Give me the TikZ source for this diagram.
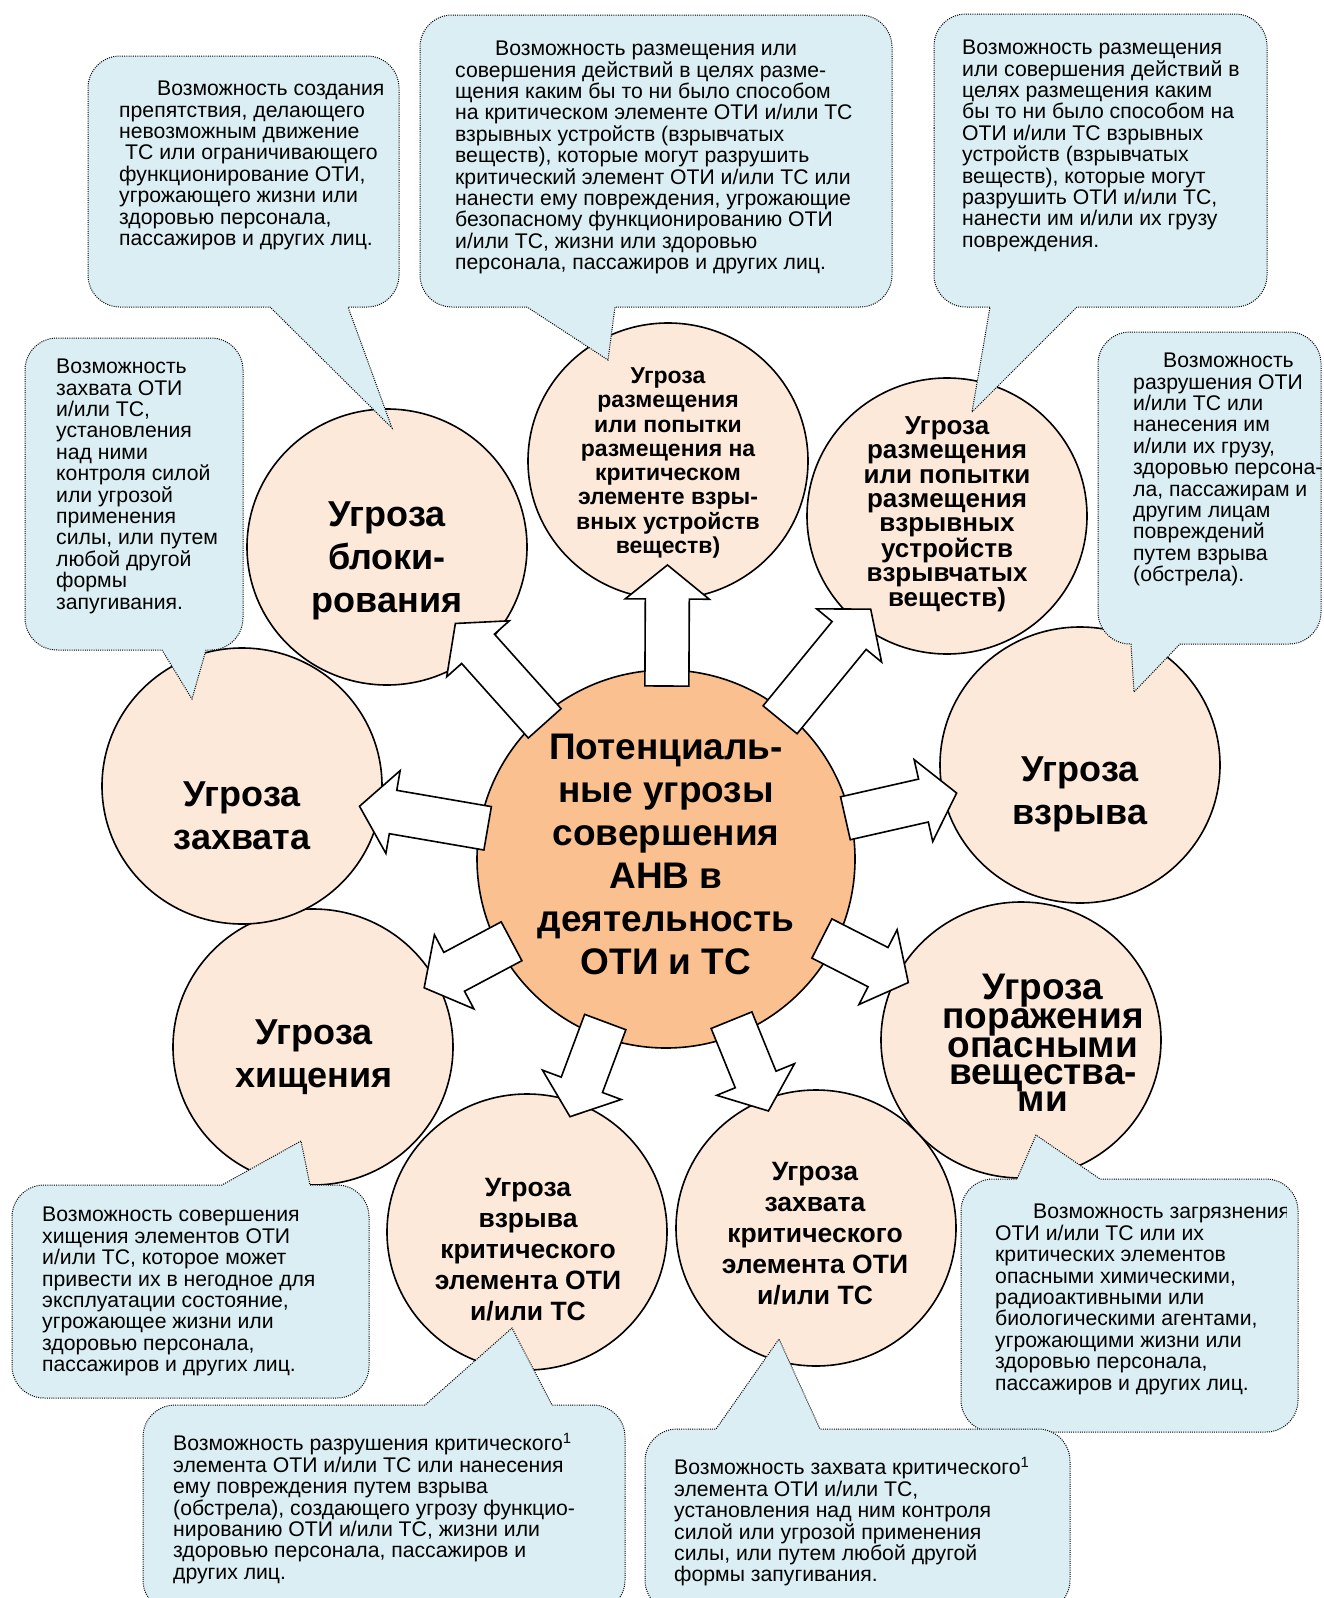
\documentclass[tikz,border=0pt]{standalone}
\usepackage{fontspec}
\setmainfont{Liberation Sans}
\usetikzlibrary{shapes.geometric, arrows.meta, positioning, calc}
\definecolor{hubfill}{HTML}{FAC090}
\definecolor{threatfill}{HTML}{FDE9D9}
\definecolor{notefill}{HTML}{DAEEF3}

% block arrow from node #1 towards node #2, tail and tip at distances #3, #4
\newcommand{\threatarrow}[4]{%
  \coordinate (arS) at ($(#1.center)!#3!(#2.center)$);
  \coordinate (arT) at ($(#1.center)!#4!(#2.center)$);
  \coordinate (arH) at ($(arT)!34pt!(arS)$);
  \draw[blockarrow] ($(arS)!22pt!90:(arT)$) -- ($(arH)!22pt!-90:(arS)$)
    -- ($(arH)!42pt!-90:(arS)$) -- (arT) -- ($(arH)!42pt!90:(arS)$)
    -- ($(arH)!22pt!90:(arS)$) -- ($(arS)!22pt!-90:(arT)$) -- cycle;
}

\begin{document}
\begin{tikzpicture}[x=1pt, y=-1pt]
    \tikzset{
      threat/.style={ellipse, draw, line width=1.6pt, fill=threatfill,
        minimum width=280pt, minimum height=276pt, inner sep=0pt},
      hub/.style={circle, draw, line width=1.6pt, fill=hubfill,
        minimum size=378pt, inner sep=0pt},
      bigtext/.style={align=center, inner sep=0pt,
        font=\bfseries\fontsize{36}{43}\selectfont},
      bubble/.style={draw, fill=notefill, line width=1pt,
        dash pattern=on 1pt off 1.2pt},
      notetext/.style={anchor=north west, align=left, inner sep=0pt,
        font=\fontsize{21.2}{21.4}\selectfont},
      blockarrow/.style={draw, fill=white, line width=1.6pt, line join=miter}
    }
    \useasboundingbox (0,0) rectangle (1323,1598);

    % threat circles
    \node[threat] (blok) at (387,547) {};
    \node[threat] (razmKr) at (668,461) {};
    \node[threat] (razmVu) at (947,516) {};
    \node[threat] (vzryv) at (1080,765) {};
    \node[threat] (porazh) at (1021,1040) {};
    \node[threat] (zahvKr) at (816,1228) {};
    \node[threat] (vzryvKr) at (527,1232) {};
    \node[threat] (hisch) at (313,1047) {};
    \node[threat] (zahv) at (242,786) {};
    \node[hub] (hub) at (666,859) {};

    \node[bigtext] (blokT) at (387,561) {Угроза\\блоки-\\рования};
    \node[align=center, inner sep=0pt,
      font=\bfseries\fontsize{23}{24.3}\selectfont] (razmKrT) at (668,463)
      {Угроза\\размещения\\или попытки\\размещения на\\критическом\\элементе взры-\\вных устройств\\веществ)};
    \node[align=center, inner sep=0pt,
      font=\bfseries\fontsize{26}{24.3}\selectfont] (razmVuT) at (947,514)
      {Угроза\\размещения\\или попытки\\размещения\\взрывных\\устройств\\взрывчатых\\веществ)};
    \node[bigtext] (vzryvT) at (1080,794) {Угроза\\взрыва};
    \node[align=center, inner sep=0pt,
      font=\bfseries\fontsize{37}{27.2}\selectfont] (porazhT) at (1043,1043)
      {Угроза\\поражения\\опасными\\вещества-\\ми};
    \node[align=center, inner sep=0pt,
      font=\bfseries\fontsize{26.5}{31}\selectfont] (zahvKrT) at (815,1234)
      {Угроза\\захвата\\критического\\элемента ОТИ\\и/или ТС};
    \node[align=center, inner sep=0pt,
      font=\bfseries\fontsize{26.5}{31}\selectfont] (vzryvKrT) at (528,1250)
      {Угроза\\взрыва\\критического\\элемента ОТИ\\и/или ТС};
    \node[bigtext] (hischT) at (314,1057) {Угроза\\хищения};
    \node[bigtext] (zahvT) at (242,816) {Угроза\\захвата};
    \node[align=center, inner sep=0pt,
      font=\bfseries\fontsize{37}{43}\selectfont] (hubT) at (666,854)
      {Потенциаль-\\ные угрозы\\совершения\\АНВ в\\деятельность\\ОТИ и ТС};

    % callouts
    \draw[bubble] (88,180) [rounded corners=32] -- (88,56) -- (399,56) -- (399,307)
      [sharp corners] -- (348,307) -- (392,428) -- (270,307) [rounded corners=32]
      -- (88,307) -- cycle;
    \node[notetext] (noteBlok) at (119,81) {\hspace*{38pt}Возможность создания\\
      препятствия, делающего\\невозможным движение\\\hspace*{6pt}ТС или ограничивающего\\
      функционирование ОТИ,\\угрожающего жизни или\\здоровью персонала,\\
      пассажиров и других лиц.};

    \draw[bubble] (420,160) [rounded corners=32] -- (420,15) -- (892,15) -- (892,307)
      [sharp corners] -- (615,307) -- (608,360) -- (527,307) [rounded corners=32]
      -- (420,307) -- cycle;
    \node[notetext] (noteRazmKr) at (455,41) {\hspace*{40pt}Возможность размещения или\\
      совершения действий в целях разме-\\щения каким бы то ни было способом\\
      на критическом элементе ОТИ и/или ТС\\взрывных устройств (взрывчатых\\
      веществ), которые могут разрушить\\критический элемент ОТИ и/или ТС или\\
      нанести ему повреждения, угрожающие\\безопасному функционированию ОТИ\\
      и/или ТС, жизни или здоровью\\персонала, пассажиров и других лиц.};

    \draw[bubble] (934,160) [rounded corners=32] -- (934,14) -- (1267,14) -- (1267,307)
      [sharp corners] -- (1077,307) -- (972,412) -- (990,307) [rounded corners=32]
      -- (934,307) -- cycle;
    \node[notetext] (noteRazmVu) at (962,40) {Возможность размещения\\
      или совершения действий в\\целях размещения каким\\бы то ни было способом на\\
      ОТИ и/или ТС взрывных\\устройств (взрывчатых\\веществ), которые могут\\
      разрушить ОТИ и/или ТС,\\нанести им и/или их грузу\\повреждения.};

    \draw[bubble] (25,500) [rounded corners=32] -- (25,338) -- (243,338) -- (243,650)
      [sharp corners] -- (206,650) -- (192,699) -- (162,650) [rounded corners=32]
      -- (25,650) -- cycle;
    \node[notetext] (noteZahv) at (56,359) {Возможность\\захвата ОТИ\\и/или ТС,\\
      установления\\над ними\\контроля силой\\или угрозой\\применения\\
      силы, или путем\\любой другой\\формы\\запугивания.};

    \draw[bubble] (1098,500) [rounded corners=32] -- (1098,332) -- (1321,332) -- (1321,644)
      [sharp corners] -- (1180,644) -- (1134,692) -- (1131,644) [rounded corners=32]
      -- (1098,644) -- cycle;
    \node[notetext] (noteVzryv) at (1133,353) {\hspace*{30pt}Возможность\\
      разрушения ОТИ\\и/или ТС или\\нанесения им\\и/или их грузу,\\
      здоровью персона-\\ла, пассажирам и\\другим лицам\\повреждений\\
      путем взрыва\\(обстрела).};

    \draw[bubble] (12,1290) [rounded corners=32] -- (12,1185) [sharp corners]
      -- (222,1185) -- (301,1141) -- (310,1185) [rounded corners=32]
      -- (369,1185) -- (369,1398) -- (12,1398) -- cycle;
    \node[notetext] (noteHisch) at (42,1207) {Возможность совершения\\
      хищения элементов ОТИ\\и/или ТС, которое может\\привести их в негодное для\\
      эксплуатации состояние,\\угрожающее жизни или\\здоровью персонала,\\
      пассажиров и других лиц.};

    \draw[bubble] (143,1500) [rounded corners=32] -- (143,1405) [sharp corners]
      -- (425,1405) -- (512,1328) -- (552,1405) [rounded corners=32]
      -- (625,1405) -- (625,1612) -- (143,1612) -- cycle;
    \node[notetext] (noteVzryvKr) at (173,1433)
      {Возможность разрушения критического\textsuperscript{1}\\
      элемента ОТИ и/или ТС или нанесения\\ему повреждения путем взрыва\\
      (обстрела), создающего угрозу функцио-\\нированию ОТИ и/или ТС, жизни или\\
      здоровью персонала, пассажиров и\\других лиц.};

    \draw[bubble] (961,1300) [rounded corners=32] -- (961,1179) [sharp corners]
      -- (1017,1179) -- (1036,1135) -- (1100,1179) [rounded corners=32]
      -- (1298,1179) -- (1298,1432) -- (961,1432) -- cycle;
    \begin{scope}
      \clip (961,1179) rectangle (1286,1432);
      \node[notetext] (notePorazh) at (995,1204) {\hspace*{38pt}Возможность загрязнения\\
        ОТИ и/или ТС или их\\критических элементов\\опасными химическими,\\
        радиоактивными или\\биологическими агентами,\\угрожающими жизни или\\
        здоровью персонала,\\пассажиров и других лиц.};
    \end{scope}

    \draw[bubble] (645,1520) [rounded corners=32] -- (645,1429) [sharp corners]
      -- (716,1429) -- (779,1339) -- (820,1429) [rounded corners=32]
      -- (1070,1429) -- (1070,1612) -- (645,1612) -- cycle;
    \node[notetext] (noteZahvKr) at (674,1457)
      {Возможность захвата критического\textsuperscript{1}\\элемента ОТИ и/или ТС,\\
      установления над ним контроля\\силой или угрозой применения\\
      силы, или путем любой другой\\формы запугивания.};

    % arrows from the hub
    \threatarrow{hub}{razmKr}{173pt}{294pt}
    \threatarrow{hub}{blok}{182pt}{316pt}
    \threatarrow{hub}{razmVu}{180pt}{323pt}
    \threatarrow{hub}{vzryv}{184pt}{298pt}
    \threatarrow{hub}{porazh}{175pt}{272pt}
    \threatarrow{hub}{zahvKr}{174pt}{272pt}
    \threatarrow{hub}{vzryvKr}{174pt}{275pt}
    \threatarrow{hub}{hisch}{175pt}{274pt}
    \threatarrow{hub}{zahv}{181pt}{311pt}
  \end{tikzpicture}
\end{document}
